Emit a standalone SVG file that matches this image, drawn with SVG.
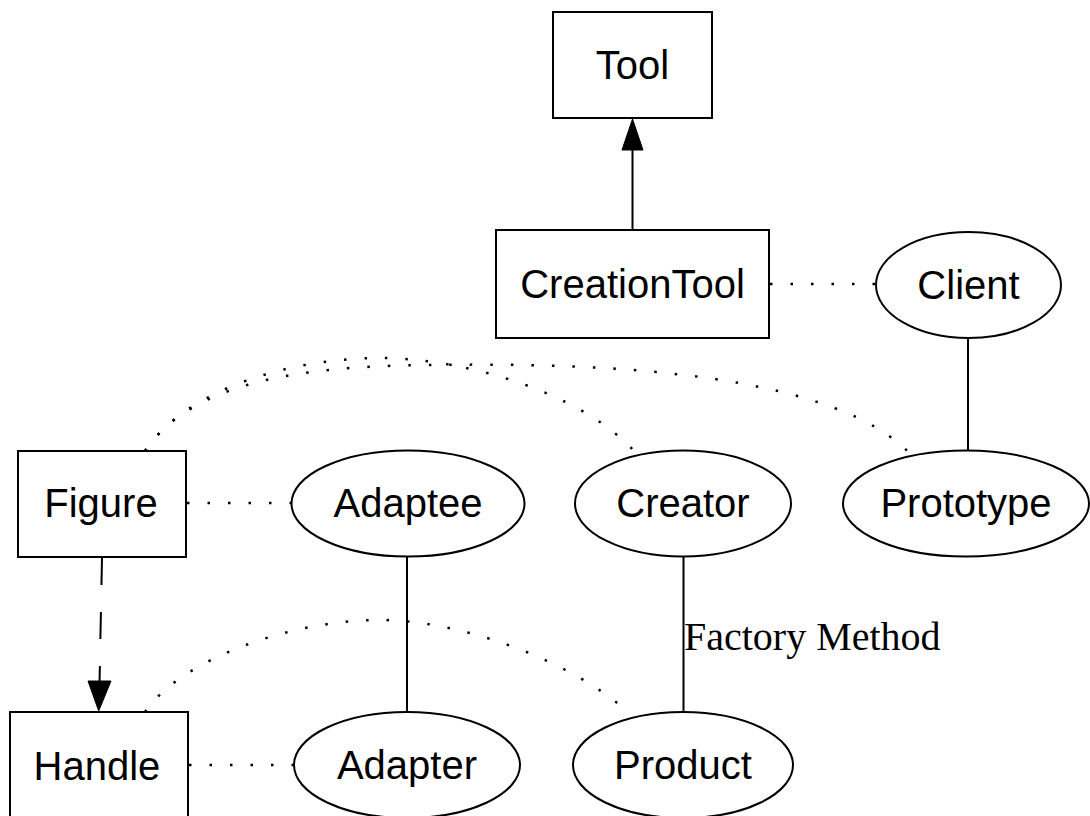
<svg xmlns="http://www.w3.org/2000/svg" width="1090" height="816" viewBox="0 0 1090 816">
<style>
.box{fill:#fff;stroke:#000;stroke-width:2}
.ell{fill:#fff;stroke:#000;stroke-width:2}
.lbl{font-family:"Liberation Sans",Arial,sans-serif;font-size:40px;text-anchor:middle;fill:#000}
.edge{fill:none;stroke:#000;stroke-width:2}
.dot{fill:none;stroke:#000;stroke-width:2.5;stroke-dasharray:2.5 18}
.dash{fill:none;stroke:#000;stroke-width:2;stroke-dasharray:27 27}
.elbl{font-family:"Liberation Serif","Times New Roman",serif;font-size:40px;fill:#000}
</style>
<rect width="1090" height="816" fill="#fff"/>
<g id="edges">
<line class="edge" x1="632.5" y1="230" x2="632.5" y2="148"/>
<polygon points="632.5,119 622,150 643,150" fill="#000" stroke="#000" stroke-width="1"/>
<line class="dot" x1="770" y1="284" x2="876" y2="284"/>
<line class="edge" x1="968" y1="338" x2="968" y2="450"/>
<path class="dot" d="M145,451 C185,390 290,358 380,358 C460,358 580,390 637,454"/>
<path class="dot" d="M145,451 C190,385 290,366 430,365 C620,362 840,375 913,457"/>
<line class="dot" x1="187" y1="503" x2="291" y2="503"/>
<line class="dash" x1="102" y1="558" x2="99.5" y2="684"/>
<polygon points="98.7,711 88,681 111,681" fill="#000" stroke="#000" stroke-width="1"/>
<line class="edge" x1="407" y1="556" x2="407" y2="712"/>
<line class="edge" x1="683.5" y1="556" x2="683.5" y2="712"/>
<path class="dot" d="M145,712 C180,660 290,620 380,620 C460,620 570,660 628,712"/>
<line class="dot" x1="189" y1="765" x2="294" y2="765"/>
<text class="elbl" x="684" y="650">Factory Method</text>
</g>
<g id="node-tool"><rect class="box" x="553" y="12" width="159" height="106"/><text class="lbl" x="632.5" y="79">Tool</text></g>
<g id="node-creationtool"><rect class="box" x="496" y="230" width="273" height="108"/><text class="lbl" x="632.5" y="298">CreationTool</text></g>
<g id="node-client"><ellipse class="ell" cx="968.5" cy="285" rx="92.5" ry="53"/><text class="lbl" x="968.5" y="299">Client</text></g>
<g id="node-figure"><rect class="box" x="18" y="451" width="168" height="106"/><text class="lbl" x="101" y="517">Figure</text></g>
<g id="node-adaptee"><ellipse class="ell" cx="408" cy="503.5" rx="116.5" ry="53"/><text class="lbl" x="408" y="517">Adaptee</text></g>
<g id="node-creator"><ellipse class="ell" cx="683" cy="503.5" rx="108" ry="53"/><text class="lbl" x="683" y="517">Creator</text></g>
<g id="node-prototype"><ellipse class="ell" cx="966" cy="503.5" rx="123" ry="53"/><text class="lbl" x="966" y="517">Prototype</text></g>
<g id="node-handle"><rect class="box" x="10" y="712" width="178" height="108"/><text class="lbl" x="97" y="780">Handle</text></g>
<g id="node-adapter"><ellipse class="ell" cx="407" cy="765" rx="113" ry="53"/><text class="lbl" x="407" y="779">Adapter</text></g>
<g id="node-product"><ellipse class="ell" cx="683" cy="765" rx="110" ry="53"/><text class="lbl" x="683" y="779">Product</text></g>
</svg>
